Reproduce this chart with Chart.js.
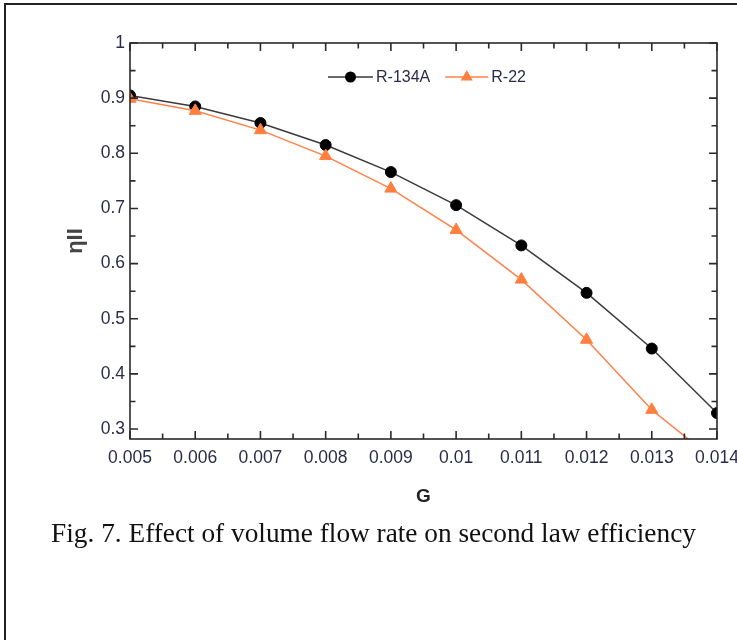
<!DOCTYPE html>
<html><head><meta charset="utf-8">
<script src="https://cdn.jsdelivr.net/npm/chart.js@4.4.1/dist/chart.umd.min.js"></script>
<style>
html,body{margin:0;padding:0;background:#fff;}
#wrap{position:relative;width:737px;height:640px;overflow:hidden;background:#fff;}
#frame{position:absolute;left:4px;top:3px;width:760px;height:660px;border-top:2px solid #222;border-left:2px solid #222;}
#chartBox{position:absolute;left:0;top:0;width:737px;height:520px;}
#caption{position:absolute;left:5px;width:737px;top:518px;text-align:center;font-family:"Liberation Serif","Times New Roman",serif;font-size:27.3px;color:#111;white-space:nowrap;}
</style></head>
<body>
<div id="wrap">
<div id="frame"></div>
<div id="chartBox"><canvas id="c" width="737" height="520"></canvas></div>
<div id="caption">Fig. 7. Effect of volume flow rate on second law efficiency</div>
</div>
<script>
const gValues = [0.005, 0.006, 0.007, 0.008, 0.009, 0.010, 0.011, 0.012, 0.013, 0.014];
const r134aValues = [0.905, 0.885, 0.855, 0.815, 0.766, 0.706, 0.633, 0.547, 0.446, 0.329];
const r22Values = [0.899, 0.877, 0.842, 0.795, 0.736, 0.661, 0.571, 0.462, 0.335, 0.240];
const seriesNames = ['R-134A', 'R-22'];
const xTicks = [0.005, 0.006, 0.007, 0.008, 0.009, 0.010, 0.011, 0.012, 0.013, 0.014];
const xTickLabels = ['0.005', '0.006', '0.007', '0.008', '0.009', '0.01', '0.011', '0.012', '0.013', '0.014'];
const yTicks = [0.3, 0.4, 0.5, 0.6, 0.7, 0.8, 0.9, 1.0];
const yTickLabels = ['0.3', '0.4', '0.5', '0.6', '0.7', '0.8', '0.9', '1'];
const xTitle = 'G';
const yTitle = 'ηII';

const tickColor = '#2b2b4a';
const axisColor = '#2a2a2a';

function midpoints(arr){ const m=[]; for(let i=0;i<arr.length-1;i++) m.push((arr[i]+arr[i+1])/2); return m; }

const frameTicks = {
  id: 'frameTicks',
  afterDraw(chart){
    const {ctx, chartArea:a, scales:{x, y}} = chart;
    ctx.save();
    ctx.strokeStyle = axisColor;
    ctx.lineWidth = 1.6;
    const maj = 8, mnr = 5.5;
    const xt = (v, len) => { const p = x.getPixelForValue(v);
      ctx.beginPath(); ctx.moveTo(p, a.bottom); ctx.lineTo(p, a.bottom - len);
      ctx.moveTo(p, a.top); ctx.lineTo(p, a.top + len); ctx.stroke(); };
    const yt = (v, len) => { const p = y.getPixelForValue(v);
      ctx.beginPath(); ctx.moveTo(a.left, p); ctx.lineTo(a.left + len, p);
      ctx.moveTo(a.right, p); ctx.lineTo(a.right - len, p); ctx.stroke(); };
    xTicks.forEach(v => xt(v, maj));
    midpoints(xTicks).forEach(v => xt(v, mnr));
    yTicks.forEach(v => yt(v, maj));
    midpoints(yTicks).forEach(v => yt(v, mnr));
    ctx.strokeRect(a.left, a.top, a.right - a.left, a.bottom - a.top);
    ctx.restore();
  }
};

const insideLegend = {
  id: 'insideLegend',
  afterDraw(chart){
    const {ctx, chartArea:a} = chart;
    ctx.save();
    ctx.font = '16px "Liberation Sans", Arial, sans-serif';
    ctx.textBaseline = 'middle';
    const cy = a.top + 34;
    let xPos = a.left + 198;
    const lineLens = [45, 43];
    chart.data.datasets.forEach((ds, i) => {
      const L = lineLens[i];
      ctx.strokeStyle = ds.borderColor; ctx.lineWidth = 1.6;
      ctx.beginPath(); ctx.moveTo(xPos, cy); ctx.lineTo(xPos + L, cy); ctx.stroke();
      const mx = xPos + L/2;
      ctx.fillStyle = ds.pointBackgroundColor;
      ctx.beginPath();
      if (ds.pointStyle === 'triangle') {
        const r = ds.pointRadius;
        ctx.moveTo(mx, cy - r);
        ctx.lineTo(mx + r*0.866, cy + r*0.5);
        ctx.lineTo(mx - r*0.866, cy + r*0.5);
        ctx.closePath();
      } else {
        ctx.arc(mx, cy, ds.pointRadius, 0, Math.PI*2);
      }
      ctx.fill();
      ctx.fillStyle = tickColor;
      ctx.fillText(ds.label, xPos + L + 3, cy + 1);
      xPos += L + 3 + ctx.measureText(ds.label).width + 15;
    });
    ctx.restore();
  }
};

new Chart(document.getElementById('c'), {
  type: 'line',
  data: {
    datasets: [
      {
        label: seriesNames[0],
        data: gValues.map((g, i) => ({x: g, y: r134aValues[i]})),
        borderColor: '#3a3a3a', borderWidth: 1.5,
        pointStyle: 'circle', pointRadius: 5.5,
        pointBackgroundColor: '#000', pointBorderColor: '#000', pointBorderWidth: 1,
        order: 1, tension: 0
      },
      {
        label: seriesNames[1],
        data: gValues.map((g, i) => ({x: g, y: r22Values[i]})),
        borderColor: '#FF8048', borderWidth: 1.5,
        pointStyle: 'triangle', pointRadius: 7,
        pointBackgroundColor: '#FF7F3F', pointBorderColor: '#FF7F3F', pointBorderWidth: 1,
        order: 0, tension: 0
      }
    ]
  },
  options: {
    responsive: false,
    animation: false,
    devicePixelRatio: 1,
    layout: { padding: { left: 0, top: 43, right: 20, bottom: 0 } },
    plugins: { legend: { display: false }, tooltip: { enabled: false } },
    scales: {
      x: {
        type: 'linear', min: 0.005, max: 0.014,
        afterBuildTicks: s => { s.ticks = xTicks.map(v => ({value: v})); },
        afterFit: s => { s.height = 81; s.paddingRight = 0; },
        ticks: {
          callback: (v, i) => xTickLabels[i],
          font: { family: '"Liberation Sans", Arial, sans-serif', size: 17.5 },
          color: tickColor, padding: 9, maxRotation: 0, autoSkip: false
        },
        grid: { display: false, drawTicks: false },
        border: { display: false },
        title: {
          display: true, text: xTitle,
          font: { family: '"Liberation Sans", Arial, sans-serif', size: 19, weight: 'bold' },
          color: '#222', padding: { top: 0, bottom: 12 }
        }
      },
      y: {
        type: 'linear', min: 0.282, max: 1,
        afterBuildTicks: s => { s.ticks = yTicks.map(v => ({value: v})); },
        afterFit: s => { s.width = 130; },
        ticks: {
          callback: (v, i) => yTickLabels[i],
          font: { family: '"Liberation Sans", Arial, sans-serif', size: 17.5 },
          color: tickColor, padding: 5, autoSkip: false
        },
        grid: { display: false, drawTicks: false },
        border: { display: false },
        title: {
          display: true, text: yTitle,
          font: { family: '"Liberation Sans", Arial, sans-serif', size: 22, weight: 'bold' },
          color: '#444', padding: { top: 63, bottom: 0 }
        }
      }
    }
  },
  plugins: [frameTicks, insideLegend]
});
</script>
</body></html>
